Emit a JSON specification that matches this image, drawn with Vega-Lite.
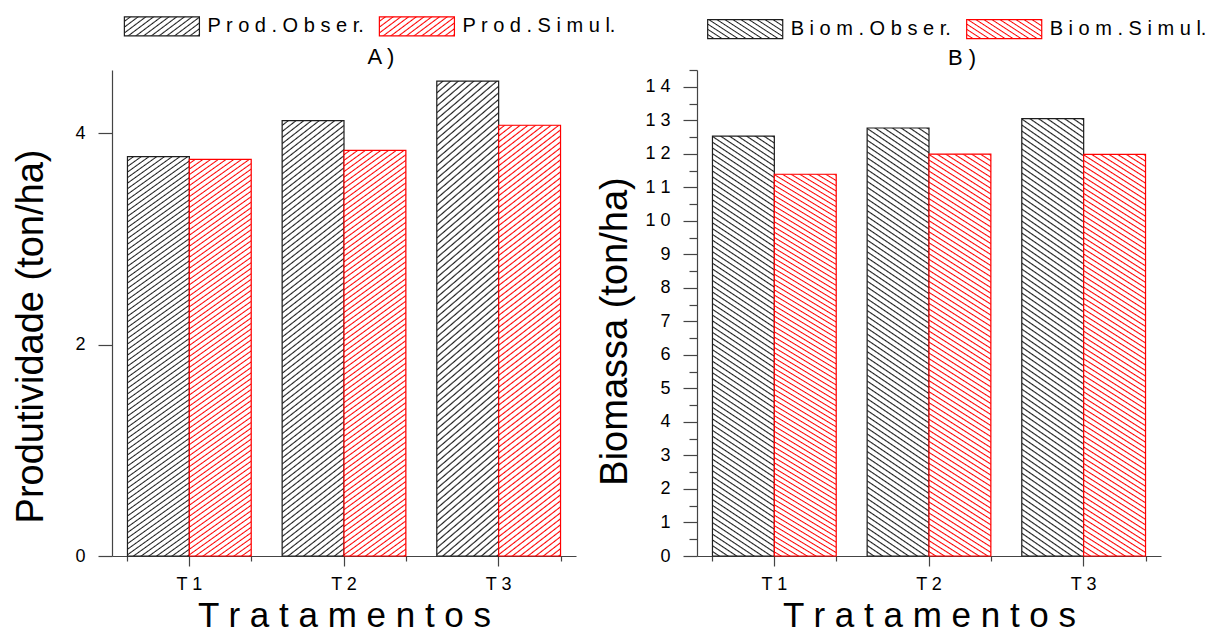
{
"$schema": "https://vega.github.io/schema/vega-lite/v6.json",
"background": "white",
"padding": {"left": 12, "top": 15, "right": 0, "bottom": 0},
"params": [
{"name": "hs", "value": [
{"offset":0,"color":"#fff"},{"offset":0.006875,"color":"#fff"},{"offset":0.01,"color":"#fff0"},
{"offset":0.0125,"color":"#fff"},{"offset":0.019375,"color":"#fff"},{"offset":0.0225,"color":"#fff0"},
{"offset":0.025,"color":"#fff"},{"offset":0.031875,"color":"#fff"},{"offset":0.035,"color":"#fff0"},
{"offset":0.0375,"color":"#fff"},{"offset":0.044375,"color":"#fff"},{"offset":0.0475,"color":"#fff0"},
{"offset":0.05,"color":"#fff"},{"offset":0.056875,"color":"#fff"},{"offset":0.06,"color":"#fff0"},
{"offset":0.0625,"color":"#fff"},{"offset":0.069375,"color":"#fff"},{"offset":0.0725,"color":"#fff0"},
{"offset":0.075,"color":"#fff"},{"offset":0.081875,"color":"#fff"},{"offset":0.085,"color":"#fff0"},
{"offset":0.0875,"color":"#fff"},{"offset":0.094375,"color":"#fff"},{"offset":0.0975,"color":"#fff0"},
{"offset":0.1,"color":"#fff"},{"offset":0.106875,"color":"#fff"},{"offset":0.11,"color":"#fff0"},
{"offset":0.1125,"color":"#fff"},{"offset":0.119375,"color":"#fff"},{"offset":0.1225,"color":"#fff0"},
{"offset":0.125,"color":"#fff"},{"offset":0.131875,"color":"#fff"},{"offset":0.135,"color":"#fff0"},
{"offset":0.1375,"color":"#fff"},{"offset":0.144375,"color":"#fff"},{"offset":0.1475,"color":"#fff0"},
{"offset":0.15,"color":"#fff"},{"offset":0.156875,"color":"#fff"},{"offset":0.16,"color":"#fff0"},
{"offset":0.1625,"color":"#fff"},{"offset":0.169375,"color":"#fff"},{"offset":0.1725,"color":"#fff0"},
{"offset":0.175,"color":"#fff"},{"offset":0.181875,"color":"#fff"},{"offset":0.185,"color":"#fff0"},
{"offset":0.1875,"color":"#fff"},{"offset":0.194375,"color":"#fff"},{"offset":0.1975,"color":"#fff0"},
{"offset":0.2,"color":"#fff"},{"offset":0.206875,"color":"#fff"},{"offset":0.21,"color":"#fff0"},
{"offset":0.2125,"color":"#fff"},{"offset":0.219375,"color":"#fff"},{"offset":0.2225,"color":"#fff0"},
{"offset":0.225,"color":"#fff"},{"offset":0.231875,"color":"#fff"},{"offset":0.235,"color":"#fff0"},
{"offset":0.2375,"color":"#fff"},{"offset":0.244375,"color":"#fff"},{"offset":0.2475,"color":"#fff0"},
{"offset":0.25,"color":"#fff"},{"offset":0.256875,"color":"#fff"},{"offset":0.26,"color":"#fff0"},
{"offset":0.2625,"color":"#fff"},{"offset":0.269375,"color":"#fff"},{"offset":0.2725,"color":"#fff0"},
{"offset":0.275,"color":"#fff"},{"offset":0.281875,"color":"#fff"},{"offset":0.285,"color":"#fff0"},
{"offset":0.2875,"color":"#fff"},{"offset":0.294375,"color":"#fff"},{"offset":0.2975,"color":"#fff0"},
{"offset":0.3,"color":"#fff"},{"offset":0.306875,"color":"#fff"},{"offset":0.31,"color":"#fff0"},
{"offset":0.3125,"color":"#fff"},{"offset":0.319375,"color":"#fff"},{"offset":0.3225,"color":"#fff0"},
{"offset":0.325,"color":"#fff"},{"offset":0.331875,"color":"#fff"},{"offset":0.335,"color":"#fff0"},
{"offset":0.3375,"color":"#fff"},{"offset":0.344375,"color":"#fff"},{"offset":0.3475,"color":"#fff0"},
{"offset":0.35,"color":"#fff"},{"offset":0.356875,"color":"#fff"},{"offset":0.36,"color":"#fff0"},
{"offset":0.3625,"color":"#fff"},{"offset":0.369375,"color":"#fff"},{"offset":0.3725,"color":"#fff0"},
{"offset":0.375,"color":"#fff"},{"offset":0.381875,"color":"#fff"},{"offset":0.385,"color":"#fff0"},
{"offset":0.3875,"color":"#fff"},{"offset":0.394375,"color":"#fff"},{"offset":0.3975,"color":"#fff0"},
{"offset":0.4,"color":"#fff"},{"offset":0.406875,"color":"#fff"},{"offset":0.41,"color":"#fff0"},
{"offset":0.4125,"color":"#fff"},{"offset":0.419375,"color":"#fff"},{"offset":0.4225,"color":"#fff0"},
{"offset":0.425,"color":"#fff"},{"offset":0.431875,"color":"#fff"},{"offset":0.435,"color":"#fff0"},
{"offset":0.4375,"color":"#fff"},{"offset":0.444375,"color":"#fff"},{"offset":0.4475,"color":"#fff0"},
{"offset":0.45,"color":"#fff"},{"offset":0.456875,"color":"#fff"},{"offset":0.46,"color":"#fff0"},
{"offset":0.4625,"color":"#fff"},{"offset":0.469375,"color":"#fff"},{"offset":0.4725,"color":"#fff0"},
{"offset":0.475,"color":"#fff"},{"offset":0.481875,"color":"#fff"},{"offset":0.485,"color":"#fff0"},
{"offset":0.4875,"color":"#fff"},{"offset":0.494375,"color":"#fff"},{"offset":0.4975,"color":"#fff0"},
{"offset":0.5,"color":"#fff"},{"offset":0.506875,"color":"#fff"},{"offset":0.51,"color":"#fff0"},
{"offset":0.5125,"color":"#fff"},{"offset":0.519375,"color":"#fff"},{"offset":0.5225,"color":"#fff0"},
{"offset":0.525,"color":"#fff"},{"offset":0.531875,"color":"#fff"},{"offset":0.535,"color":"#fff0"},
{"offset":0.5375,"color":"#fff"},{"offset":0.544375,"color":"#fff"},{"offset":0.5475,"color":"#fff0"},
{"offset":0.55,"color":"#fff"},{"offset":0.556875,"color":"#fff"},{"offset":0.56,"color":"#fff0"},
{"offset":0.5625,"color":"#fff"},{"offset":0.569375,"color":"#fff"},{"offset":0.5725,"color":"#fff0"},
{"offset":0.575,"color":"#fff"},{"offset":0.581875,"color":"#fff"},{"offset":0.585,"color":"#fff0"},
{"offset":0.5875,"color":"#fff"},{"offset":0.594375,"color":"#fff"},{"offset":0.5975,"color":"#fff0"},
{"offset":0.6,"color":"#fff"},{"offset":0.606875,"color":"#fff"},{"offset":0.61,"color":"#fff0"},
{"offset":0.6125,"color":"#fff"},{"offset":0.619375,"color":"#fff"},{"offset":0.6225,"color":"#fff0"},
{"offset":0.625,"color":"#fff"},{"offset":0.631875,"color":"#fff"},{"offset":0.635,"color":"#fff0"},
{"offset":0.6375,"color":"#fff"},{"offset":0.644375,"color":"#fff"},{"offset":0.6475,"color":"#fff0"},
{"offset":0.65,"color":"#fff"},{"offset":0.656875,"color":"#fff"},{"offset":0.66,"color":"#fff0"},
{"offset":0.6625,"color":"#fff"},{"offset":0.669375,"color":"#fff"},{"offset":0.6725,"color":"#fff0"},
{"offset":0.675,"color":"#fff"},{"offset":0.681875,"color":"#fff"},{"offset":0.685,"color":"#fff0"},
{"offset":0.6875,"color":"#fff"},{"offset":0.694375,"color":"#fff"},{"offset":0.6975,"color":"#fff0"},
{"offset":0.7,"color":"#fff"},{"offset":0.706875,"color":"#fff"},{"offset":0.71,"color":"#fff0"},
{"offset":0.7125,"color":"#fff"},{"offset":0.719375,"color":"#fff"},{"offset":0.7225,"color":"#fff0"},
{"offset":0.725,"color":"#fff"},{"offset":0.731875,"color":"#fff"},{"offset":0.735,"color":"#fff0"},
{"offset":0.7375,"color":"#fff"},{"offset":0.744375,"color":"#fff"},{"offset":0.7475,"color":"#fff0"},
{"offset":0.75,"color":"#fff"},{"offset":0.756875,"color":"#fff"},{"offset":0.76,"color":"#fff0"},
{"offset":0.7625,"color":"#fff"},{"offset":0.769375,"color":"#fff"},{"offset":0.7725,"color":"#fff0"},
{"offset":0.775,"color":"#fff"},{"offset":0.781875,"color":"#fff"},{"offset":0.785,"color":"#fff0"},
{"offset":0.7875,"color":"#fff"},{"offset":0.794375,"color":"#fff"},{"offset":0.7975,"color":"#fff0"},
{"offset":0.8,"color":"#fff"},{"offset":0.806875,"color":"#fff"},{"offset":0.81,"color":"#fff0"},
{"offset":0.8125,"color":"#fff"},{"offset":0.819375,"color":"#fff"},{"offset":0.8225,"color":"#fff0"},
{"offset":0.825,"color":"#fff"},{"offset":0.831875,"color":"#fff"},{"offset":0.835,"color":"#fff0"},
{"offset":0.8375,"color":"#fff"},{"offset":0.844375,"color":"#fff"},{"offset":0.8475,"color":"#fff0"},
{"offset":0.85,"color":"#fff"},{"offset":0.856875,"color":"#fff"},{"offset":0.86,"color":"#fff0"},
{"offset":0.8625,"color":"#fff"},{"offset":0.869375,"color":"#fff"},{"offset":0.8725,"color":"#fff0"},
{"offset":0.875,"color":"#fff"},{"offset":0.881875,"color":"#fff"},{"offset":0.885,"color":"#fff0"},
{"offset":0.8875,"color":"#fff"},{"offset":0.894375,"color":"#fff"},{"offset":0.8975,"color":"#fff0"},
{"offset":0.9,"color":"#fff"},{"offset":0.906875,"color":"#fff"},{"offset":0.91,"color":"#fff0"},
{"offset":0.9125,"color":"#fff"},{"offset":0.919375,"color":"#fff"},{"offset":0.9225,"color":"#fff0"},
{"offset":0.925,"color":"#fff"},{"offset":0.931875,"color":"#fff"},{"offset":0.935,"color":"#fff0"},
{"offset":0.9375,"color":"#fff"},{"offset":0.944375,"color":"#fff"},{"offset":0.9475,"color":"#fff0"},
{"offset":0.95,"color":"#fff"},{"offset":0.956875,"color":"#fff"},{"offset":0.96,"color":"#fff0"},
{"offset":0.9625,"color":"#fff"},{"offset":0.969375,"color":"#fff"},{"offset":0.9725,"color":"#fff0"},
{"offset":0.975,"color":"#fff"},{"offset":0.981875,"color":"#fff"},{"offset":0.985,"color":"#fff0"},
{"offset":0.9875,"color":"#fff"},{"offset":0.994375,"color":"#fff"},{"offset":0.9975,"color":"#fff0"},
{"offset":1,"color":"#fff"}
]},
{"name": "hA", "expr": "{gradient: 'linear', x1: 0, y1: 0, x2: 0.122, y2: 1.0975, stops: hs}"},
{"name": "hB", "expr": "{gradient: 'linear', x1: 0, y1: 1, x2: 0.1066, y2: -0.0876, stops: hs}"},
{"name": "lk", "value": [
{"offset":0,"color":"#fff"},{"offset":0.04231,"color":"#fff"},{"offset":0.06154,"color":"#1e1e1e"},
{"offset":0.07692,"color":"#fff"},{"offset":0.11923,"color":"#fff"},{"offset":0.13846,"color":"#1e1e1e"},
{"offset":0.15385,"color":"#fff"},{"offset":0.19615,"color":"#fff"},{"offset":0.21538,"color":"#1e1e1e"},
{"offset":0.23077,"color":"#fff"},{"offset":0.27308,"color":"#fff"},{"offset":0.29231,"color":"#1e1e1e"},
{"offset":0.30769,"color":"#fff"},{"offset":0.35,"color":"#fff"},{"offset":0.36923,"color":"#1e1e1e"},
{"offset":0.38462,"color":"#fff"},{"offset":0.42692,"color":"#fff"},{"offset":0.44615,"color":"#1e1e1e"},
{"offset":0.46154,"color":"#fff"},{"offset":0.50385,"color":"#fff"},{"offset":0.52308,"color":"#1e1e1e"},
{"offset":0.53846,"color":"#fff"},{"offset":0.58077,"color":"#fff"},{"offset":0.6,"color":"#1e1e1e"},
{"offset":0.61538,"color":"#fff"},{"offset":0.65769,"color":"#fff"},{"offset":0.67692,"color":"#1e1e1e"},
{"offset":0.69231,"color":"#fff"},{"offset":0.73462,"color":"#fff"},{"offset":0.75385,"color":"#1e1e1e"},
{"offset":0.76923,"color":"#fff"},{"offset":0.81154,"color":"#fff"},{"offset":0.83077,"color":"#1e1e1e"},
{"offset":0.84615,"color":"#fff"},{"offset":0.88846,"color":"#fff"},{"offset":0.90769,"color":"#1e1e1e"},
{"offset":0.92308,"color":"#fff"},{"offset":0.96538,"color":"#fff"},{"offset":0.98462,"color":"#1e1e1e"},
{"offset":1,"color":"#fff"}
]},
{"name": "lr", "value": [
{"offset":0,"color":"#fff"},{"offset":0.04231,"color":"#fff"},{"offset":0.06154,"color":"#ff0000"},
{"offset":0.07692,"color":"#fff"},{"offset":0.11923,"color":"#fff"},{"offset":0.13846,"color":"#ff0000"},
{"offset":0.15385,"color":"#fff"},{"offset":0.19615,"color":"#fff"},{"offset":0.21538,"color":"#ff0000"},
{"offset":0.23077,"color":"#fff"},{"offset":0.27308,"color":"#fff"},{"offset":0.29231,"color":"#ff0000"},
{"offset":0.30769,"color":"#fff"},{"offset":0.35,"color":"#fff"},{"offset":0.36923,"color":"#ff0000"},
{"offset":0.38462,"color":"#fff"},{"offset":0.42692,"color":"#fff"},{"offset":0.44615,"color":"#ff0000"},
{"offset":0.46154,"color":"#fff"},{"offset":0.50385,"color":"#fff"},{"offset":0.52308,"color":"#ff0000"},
{"offset":0.53846,"color":"#fff"},{"offset":0.58077,"color":"#fff"},{"offset":0.6,"color":"#ff0000"},
{"offset":0.61538,"color":"#fff"},{"offset":0.65769,"color":"#fff"},{"offset":0.67692,"color":"#ff0000"},
{"offset":0.69231,"color":"#fff"},{"offset":0.73462,"color":"#fff"},{"offset":0.75385,"color":"#ff0000"},
{"offset":0.76923,"color":"#fff"},{"offset":0.81154,"color":"#fff"},{"offset":0.83077,"color":"#ff0000"},
{"offset":0.84615,"color":"#fff"},{"offset":0.88846,"color":"#fff"},{"offset":0.90769,"color":"#ff0000"},
{"offset":0.92308,"color":"#fff"},{"offset":0.96538,"color":"#fff"},{"offset":0.98462,"color":"#ff0000"},
{"offset":1,"color":"#fff"}
]},
{"name": "lAk", "expr": "{gradient: 'linear', x1: 0, y1: 0, x2: 1.2006, y2: 0.4046, stops: lk}"},
{"name": "lAr", "expr": "{gradient: 'linear', x1: 0, y1: 0, x2: 1.2006, y2: 0.4046, stops: lr}"},
{"name": "lBk", "expr": "{gradient: 'linear', x1: 0, y1: 1, x2: 1.2068, y2: 0.5305, stops: lk}"},
{"name": "lBr", "expr": "{gradient: 'linear', x1: 0, y1: 1, x2: 1.2068, y2: 0.5305, stops: lr}"}
],
"spacing": 121,
"bounds": "flush",
"hconcat": [
{
"width": 464, "height": 486,
"title": {"text": "A )", "fontSize": 22, "anchor": "middle", "frame": "group", "dx": 37, "dy": 59, "offset": 6},
"data": {"values": [
{"trat": "T1", "series": "Prod.Obser.", "v": 3.78},
{"trat": "T1", "series": "Prod.Simul.", "v": 3.755},
{"trat": "T2", "series": "Prod.Obser.", "v": 4.12},
{"trat": "T2", "series": "Prod.Simul.", "v": 3.84},
{"trat": "T3", "series": "Prod.Obser.", "v": 4.495},
{"trat": "T3", "series": "Prod.Simul.", "v": 4.077}
]},
"layer": [
{"mark": {"type": "bar"},
 "encoding": {
  "x": {"field": "trat", "type": "nominal", "scale": {"paddingInner": 0.2, "paddingOuter": 0.1},
        "axis": {"orient": "bottom", "title": "T r a t a m e n t o s", "titleFontSize": 35, "titlePadding": 5,
                 "labelExpr": "slice(datum.label,0,1) + ' ' + slice(datum.label,1)", "labelFontSize": 18, "labelPadding": 9, "labelAngle": 0, "tickSize": 10}},
  "xOffset": {"field": "series", "type": "nominal", "scale": {"paddingInner": 0, "paddingOuter": 0}},
  "y": {"field": "v", "type": "quantitative", "scale": {"domain": [0, 4.6], "nice": false},
        "axis": {"orient": "left", "values": [0, 2, 4], "title": "Produtividade (ton/ha)", "titleFontSize": 38, "titleY": 266, "titlePadding": 24,
                 "labelFontSize": 18, "labelPadding": 13, "tickSize": 14}},
  "fill": {"field": "series", "type": "nominal", "scale": {"range": ["#1e1e1e", "#ff0000"]}, "legend": null}
 }},
{"mark": {"type": "bar", "fill": {"expr": "hA"}, "strokeWidth": 1.2},
 "encoding": {
  "x": {"field": "trat", "type": "nominal", "axis": null},
  "xOffset": {"field": "series", "type": "nominal"},
  "y": {"field": "v", "type": "quantitative", "axis": null},
  "stroke": {"field": "series", "type": "nominal", "scale": {"range": ["#1e1e1e", "#ff0000"]}, "legend": null}
 }},
{"mark": {"type": "bar", "opacity": 0},
 "encoding": {
  "x": {"field": "trat", "type": "nominal", "axis": {"orient": "bottom", "tickBand": "extent", "labels": false, "domain": false, "title": null, "tickSize": 5}},
  "xOffset": {"field": "series", "type": "nominal"},
  "y": {"field": "v", "type": "quantitative", "axis": null},
  "fill": {"field": "series", "type": "nominal", "legend": null},
  "stroke": {"field": "series", "type": "nominal", "scale": {"range": ["#1e1e1e", "#ff0000"]},
   "legend": {"orient": "none", "legendX": 11.4, "legendY": -54.5, "direction": "horizontal", "title": null,
     "symbolType": "M-3.95,-1H3.95V1H-3.95Z", "symbolSize": 361, "symbolStrokeWidth": 1.2, "symbolOffset": 28, "labelOffset": 35,
     "symbolFillColor": {"expr": "datum.value == 'Prod.Obser.' ? lAk : lAr"},
     "labelFontSize": 20, "labelColor": "#000", "labelLimit": 400, "columnPadding": 12, "padding": 0,
     "labelExpr": "datum.label == 'Prod.Obser.' ? 'P r o d . O b s e r.' : 'P r o d . S i m u l.'"}}
 }}
],
"resolve": {"axis": {"x": "independent", "y": "independent"}, "scale": {"stroke": "independent"}}
},
{
"width": 464, "height": 486,
"title": {"text": "B )", "fontSize": 22, "anchor": "middle", "frame": "group", "dx": 33, "dy": 58, "offset": 6},
"data": {"values": [
{"trat": "T1", "series": "Biom.Obser.", "v": 12.53},
{"trat": "T1", "series": "Biom.Simul.", "v": 11.39},
{"trat": "T2", "series": "Biom.Obser.", "v": 12.77},
{"trat": "T2", "series": "Biom.Simul.", "v": 11.99},
{"trat": "T3", "series": "Biom.Obser.", "v": 13.05},
{"trat": "T3", "series": "Biom.Simul.", "v": 11.98}
]},
"layer": [
{"mark": {"type": "bar"},
 "encoding": {
  "x": {"field": "trat", "type": "nominal", "scale": {"paddingInner": 0.2, "paddingOuter": 0.1},
        "axis": {"orient": "bottom", "title": "T r a t a m e n t o s", "titleFontSize": 35, "titlePadding": 5,
                 "labelExpr": "slice(datum.label,0,1) + ' ' + slice(datum.label,1)", "labelFontSize": 18, "labelPadding": 9, "labelAngle": 0, "tickSize": 10}},
  "xOffset": {"field": "series", "type": "nominal", "scale": {"paddingInner": 0, "paddingOuter": 0}},
  "y": {"field": "v", "type": "quantitative", "scale": {"domain": [0, 14.5], "nice": false},
        "axis": {"orient": "left", "values": [0,1,2,3,4,5,6,7,8,9,10,11,12,13,14], "title": "Biomassa  (ton/ha)", "titleFontSize": 38, "titleY": 261, "titlePadding": 10,
                 "labelExpr": "length(datum.label) > 1 ? slice(datum.label,0,1) + ' ' + slice(datum.label,1) : datum.label",
                 "labelFontSize": 18, "labelPadding": 13, "tickSize": 14}},
  "fill": {"field": "series", "type": "nominal", "scale": {"range": ["#1e1e1e", "#ff0000"]}, "legend": null}
 }},
{"mark": {"type": "bar", "fill": {"expr": "hB"}, "strokeWidth": 1.2},
 "encoding": {
  "x": {"field": "trat", "type": "nominal", "axis": null},
  "xOffset": {"field": "series", "type": "nominal"},
  "y": {"field": "v", "type": "quantitative", "axis": null},
  "stroke": {"field": "series", "type": "nominal", "scale": {"range": ["#1e1e1e", "#ff0000"]}, "legend": null}
 }},
{"mark": {"type": "bar", "opacity": 0},
 "encoding": {
  "x": {"field": "trat", "type": "nominal", "axis": {"orient": "bottom", "tickBand": "extent", "labels": false, "domain": false, "title": null, "tickSize": 5}},
  "xOffset": {"field": "series", "type": "nominal"},
  "y": {"field": "v", "type": "quantitative", "axis": {"orient": "left", "values": [0.5,1.5,2.5,3.5,4.5,5.5,6.5,7.5,8.5,9.5,10.5,11.5,12.5,13.5,14.5], "labels": false, "domain": false, "title": null, "tickSize": 8}},
  "fill": {"field": "series", "type": "nominal", "legend": null},
  "stroke": {"field": "series", "type": "nominal", "scale": {"range": ["#1e1e1e", "#ff0000"]},
   "legend": {"orient": "none", "legendX": 9.7, "legendY": -51.7, "direction": "horizontal", "title": null,
     "symbolType": "M-3.95,-1H3.95V1H-3.95Z", "symbolSize": 361, "symbolStrokeWidth": 1.2, "symbolOffset": 28, "labelOffset": 35,
     "symbolFillColor": {"expr": "datum.value == 'Biom.Obser.' ? lBk : lBr"},
     "labelFontSize": 20, "labelColor": "#000", "labelLimit": 400, "columnPadding": 12, "padding": 0,
     "labelExpr": "datum.label == 'Biom.Obser.' ? 'B i o m . O b s e r.' : 'B i o m . S i m u l.'"}}
 }}
],
"resolve": {"axis": {"x": "independent", "y": "independent"}, "scale": {"stroke": "independent"}}
}
],
"resolve": {"scale": {"x": "independent", "y": "independent", "xOffset": "independent", "fill": "independent", "stroke": "independent"},
            "legend": {"stroke": "independent", "fill": "independent"}},
"config": {
 "font": "Liberation Sans",
 "view": {"stroke": null},
 "axis": {"labelFont": "Liberation Sans", "titleFont": "Liberation Sans", "labelColor": "#000", "titleColor": "#000", "titleFontWeight": "normal",
          "domainColor": "#444", "tickColor": "#444", "domainWidth": 1.2, "tickWidth": 1.2, "grid": false},
 "title": {"font": "Liberation Sans", "fontWeight": "normal", "color": "#000"},
 "legend": {"labelFont": "Liberation Sans"}
}
}
